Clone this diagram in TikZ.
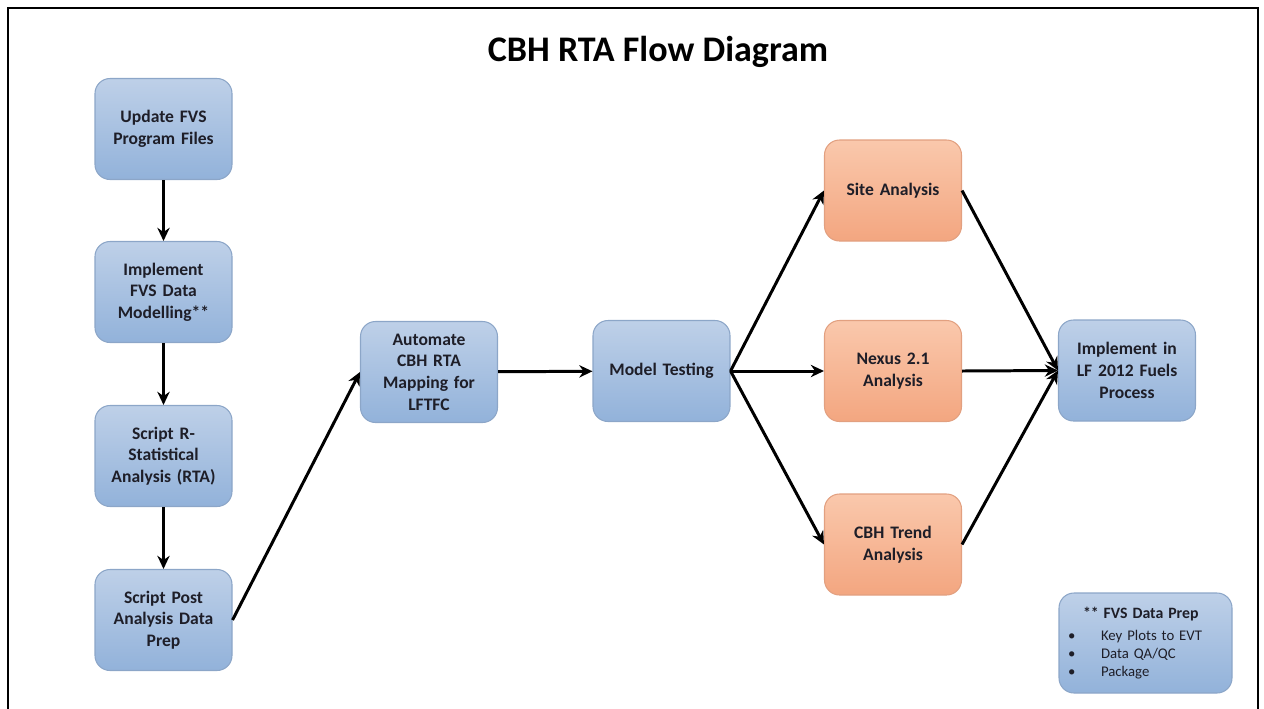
\documentclass[tikz,border=0pt]{standalone}
\usepackage{fontspec}
\setmainfont{Carlito}
\usetikzlibrary{arrows.meta}
\definecolor{bluetop}{RGB}{190,208,232}
\definecolor{bluebot}{RGB}{146,178,218}
\definecolor{bluedraw}{RGB}{140,166,200}
\definecolor{orangetop}{RGB}{250,200,172}
\definecolor{orangebot}{RGB}{243,166,128}
\definecolor{orangedraw}{RGB}{226,160,128}
\definecolor{boxtext}{RGB}{30,30,40}
\begin{document}
\begin{tikzpicture}[
    box/.style={rounded corners=0.3cm, minimum width=2.74cm, minimum height=2.02cm,
        text width=2.4cm, align=center, text=boxtext, line width=0.6pt,
        font=\fontsize{10}{12.3}\selectfont\bfseries},
    bluebox/.style={box, draw=bluedraw, top color=bluetop, bottom color=bluebot},
    orangebox/.style={box, draw=orangedraw, top color=orangetop, bottom color=orangebot},
    flow/.style={line width=1.7pt, -{Stealth[length=7.5pt,width=7pt]}}
    ]
    \useasboundingbox (0,0) rectangle (25.28,-14.16);
    \draw[line width=1.1pt] (0.16,-14.3) -- (0.16,-0.16) -- (25.16,-0.16) -- (25.16,-14.3);
    \node (title) at (13.16,-1.04) {\fontsize{20.5}{24}\selectfont\bfseries CBH RTA Flow Diagram};

    \node[bluebox] (upd) at (3.27,-2.58) {Update FVS\\Program Files};
    \node[bluebox] (impl) at (3.27,-5.84) {Implement\\FVS Data\\Modelling**};
    \node[bluebox] (scr) at (3.27,-9.12) {Script R-\\Statistical\\Analysis (RTA)};
    \node[bluebox] (post) at (3.27,-12.40) {Script Post\\Analysis Data\\Prep};
    \node[bluebox] (auto) at (8.58,-7.44) {Automate\\CBH RTA\\Mapping for\\LFTFC};
    \node[bluebox] (test) at (13.23,-7.42) {Model Testing};
    \node[orangebox] (site) at (17.86,-3.81) {Site Analysis};
    \node[orangebox] (nexus) at (17.86,-7.42) {Nexus 2.1\\Analysis};
    \node[orangebox] (trend) at (17.86,-10.89) {CBH Trend\\Analysis};
    \node[bluebox] (lf) at (22.54,-7.41) {Implement in\\LF 2012 Fuels\\Process};
    \node[bluebox, minimum width=3.46cm, minimum height=2.0cm, text width=3.1cm, align=left,
        font=\fontsize{8.4}{10.2}\selectfont] (note) at (22.91,-12.86)
        {\hspace*{0.3cm}\textbf{\fontsize{9}{10.2}\selectfont ** FVS Data Prep}\\[2.5pt]
         \makebox[0.66cm][l]{\textbullet}Key Plots to EVT\\
         \makebox[0.66cm][l]{\textbullet}Data QA/QC\\
         \makebox[0.66cm][l]{\textbullet}Package};

    \draw[flow] (upd) -- (impl);
    \draw[flow] (impl) -- (scr);
    \draw[flow] (scr) -- (post);
    \draw[flow] (post.east) -- (auto.west);
    \draw[flow] (auto) -- (test);
    \draw[flow] (test.east) -- (site.west);
    \draw[flow] (test.east) -- (nexus.west);
    \draw[flow] (test.east) -- (trend.west);
    \draw[flow] (site.east) -- (lf.west);
    \draw[flow] (nexus.east) -- (lf.west);
    \draw[flow] (trend.east) -- (lf.west);
\end{tikzpicture}
\end{document}
